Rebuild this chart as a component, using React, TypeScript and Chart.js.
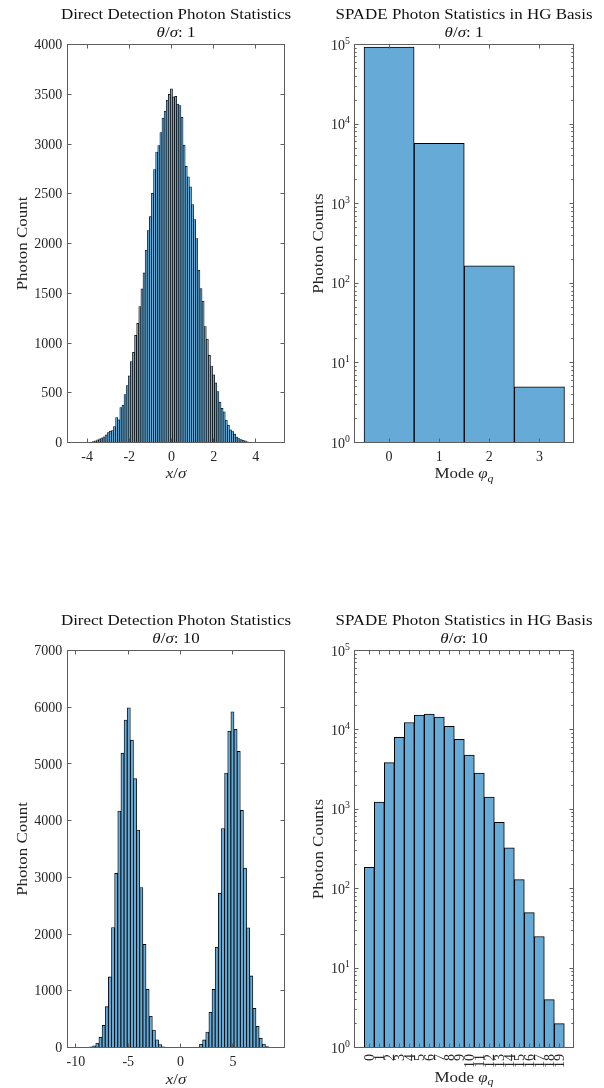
import React, { useEffect, useRef } from 'react';
import { Chart, registerables } from 'chart.js';

Chart.register(...registerables);

// ---------------- DATA ----------------
// Direct detection, theta/sigma = 1 (bin centres, bin width 0.1)
const ddCenters1 = [
  -3.7, -3.6, -3.5, -3.4, -3.3, -3.2, -3.1, -3.0, -2.9, -2.8, -2.7, -2.6, -2.5, -2.4, -2.3, -2.2, -2.1, -2.0, -1.9,
  -1.8, -1.7, -1.6, -1.5, -1.4, -1.3, -1.2, -1.1, -1.0, -0.9, -0.8, -0.7, -0.6, -0.5, -0.4, -0.3, -0.2, -0.1,
  0.0, 0.1, 0.2, 0.3, 0.4, 0.5, 0.6, 0.7, 0.8, 0.9, 1.0, 1.1, 1.2, 1.3, 1.4, 1.5, 1.6, 1.7, 1.8, 1.9, 2.0, 2.1,
  2.2, 2.3, 2.4, 2.5, 2.6, 2.7, 2.8, 2.9, 3.0, 3.1, 3.2, 3.3, 3.4, 3.5, 3.6,
];
const ddCounts1 = [
  10, 17, 27, 37, 47, 57, 77, 100, 114, 120, 160, 251, 227, 351, 375, 482, 572, 669, 813,
  906, 1077, 1197, 1365, 1545, 1706, 1933, 2130, 2271, 2505, 2742, 2920, 2983, 3114, 3261, 3330, 3440, 3500,
  3555, 3475, 3478, 3400, 3385, 3268, 2990, 2776, 2669, 2569, 2391, 2241, 2050, 1732, 1548, 1421, 1164, 1040, 876, 769, 679, 599,
  512, 405, 344, 308, 224, 174, 127, 110, 84, 54, 40, 30, 23, 17, 7,
];

// Direct detection, theta/sigma = 10 (bin centres, bin width 0.3)
const ddCenters10 = [
  -8.55, -8.25, -7.95, -7.65, -7.35, -7.05, -6.75, -6.45, -6.15, -5.85, -5.55, -5.25, -4.95, -4.65, -4.35,
  -4.05, -3.75, -3.45, -3.15, -2.85, -2.55, -2.25, -1.95, -1.65, -1.35,
  1.65, 1.95, 2.25, 2.55, 2.85, 3.15, 3.45, 3.75, 4.05, 4.35, 4.65, 4.95, 5.25, 5.55, 5.85, 6.15, 6.45,
  6.75, 7.05, 7.35, 7.65, 7.95, 8.25,
];
const ddCounts10 = [
  10, 30, 78, 182, 390, 720, 1245, 2115, 3070, 4170, 5190, 5775, 5990, 5420, 4740,
  3835, 2820, 1817, 1027, 550, 307, 135, 52, 12, 3,
  6, 58, 134, 274, 622, 1025, 1768, 2722, 3860, 4840, 5575, 5920, 5610, 5220, 4180, 3162, 2110,
  1263, 690, 375, 165, 60, 18,
];

// SPADE, theta/sigma = 1
const modes1 = [0, 1, 2, 3];
const spadeCounts1 = [93000, 5730, 166, 5];

// SPADE, theta/sigma = 10
const modes10 = [0, 1, 2, 3, 4, 5, 6, 7, 8, 9, 10, 11, 12, 13, 14, 15, 16, 17, 18, 19];
const spadeCounts10 = [186, 1236, 3863, 8040, 12400, 15380, 15850, 14520, 11070, 7590, 4830, 2865, 1429, 686, 326, 130, 50, 25, 4, 2];

// Ticks
const ddTicks1X = [-4, -2, 0, 2, 4];
const ddTicks1Y = [0, 500, 1000, 1500, 2000, 2500, 3000, 3500, 4000];
const ddTicks10X = [-10, -5, 0, 5];
const ddTicks10Y = [0, 1000, 2000, 3000, 4000, 5000, 6000, 7000];
const spadeTicks1X = [0, 1, 2, 3];
const spadeTicks10X = [0, 1, 2, 3, 4, 5, 6, 7, 8, 9, 10, 11, 12, 13, 14, 15, 16, 17, 18, 19];
const logTicksY = [1, 10, 100, 1000, 10000, 100000];
const logMinorMult = [2, 3, 4, 5, 6, 7, 8, 9];

const ddTitle = 'Direct Detection Photon Statistics';
const spadeTitle = 'SPADE Photon Statistics in HG Basis';

// ---------------- STYLE ----------------
const FONT = "'Liberation Serif', 'Times New Roman', serif";
const TXT = '#262626';
const AXIS = '#5e5e5e';
const BAR_FILL = '#66aad7';
const BAR_EDGE = '#000000';
const SX = 1.13;

type Seg = { t: string; it?: boolean; sub?: boolean; sup?: boolean };

function segFont(s: Seg, size: number) {
  const sz = s.sub || s.sup ? size * 0.7 : size;
  return `${s.it ? 'italic ' : ''}${sz}px ${FONT}`;
}

function drawRich(
  ctx: CanvasRenderingContext2D,
  segs: Seg[],
  x: number,
  y: number,
  size: number,
  align: 'left' | 'center' | 'right',
  color: string,
  sx = 1,
  rotate = 0,
) {
  ctx.save();
  ctx.translate(x, y);
  if (rotate) ctx.rotate(rotate);
  ctx.scale(sx, 1);
  let total = 0;
  const widths = segs.map((s) => {
    ctx.font = segFont(s, size);
    const w = ctx.measureText(s.t).width;
    total += w;
    return w;
  });
  let cx = align === 'center' ? -total / 2 : align === 'right' ? -total : 0;
  ctx.fillStyle = color;
  ctx.textAlign = 'left';
  ctx.textBaseline = 'alphabetic';
  segs.forEach((s, i) => {
    ctx.font = segFont(s, size);
    const dy = s.sub ? size * 0.22 : s.sup ? -size * 0.42 : 0;
    ctx.fillText(s.t, cx, dy);
    cx += widths[i];
  });
  ctx.restore();
}

type Panel = {
  ox: number;
  oy: number;
  xs: number[];
  ys: number[];
  log: boolean;
  xMin: number;
  xMax: number;
  yMin: number;
  yMax: number;
  xTicks: number[];
  yTicks: number[];
  title: string;
  theta: string;
  xLabel: Seg[];
  yLabel: string;
  padTop: number;
  padRight: number;
  yW: number;
  xH: number;
  xLabelDy: number;
  yLabelDx: number;
  yTickGap: number;
  rotatedX: boolean;
  borderWidth: number;
};

const xOverSigma: Seg[] = [{ t: 'x', it: true }, { t: '/' }, { t: 'σ', it: true }];
const modeLabel: Seg[] = [{ t: 'Mode ' }, { t: 'φ', it: true }, { t: 'q', it: true, sub: true }];

const panels: Panel[] = [
  {
    ox: 0, oy: 0, xs: ddCenters1, ys: ddCounts1, log: false,
    xMin: -4.93, xMax: 5.36, yMin: 0, yMax: 4000, xTicks: ddTicks1X, yTicks: ddTicks1Y,
    title: ddTitle, theta: '1', xLabel: xOverSigma, yLabel: 'Photon Count',
    padTop: 44.5, padRight: 17.5, yW: 67.5, xH: 101.5, xLabelDy: 35.5, yLabelDx: 40.8, yTickGap: 5.2,
    rotatedX: false, borderWidth: 0.72,
  },
  {
    ox: 302, oy: 0, xs: modes1, ys: spadeCounts1, log: true,
    xMin: -0.69, xMax: 3.68, yMin: 1, yMax: 100000, xTicks: spadeTicks1X, yTicks: logTicksY,
    title: spadeTitle, theta: '1', xLabel: modeLabel, yLabel: 'Photon Counts',
    padTop: 44.5, padRight: 30.5, yW: 52.5, xH: 101.5, xLabelDy: 35.8, yLabelDx: 31.2, yTickGap: 4.5,
    rotatedX: false, borderWidth: 1,
  },
  {
    ox: 0, oy: 544, xs: ddCenters10, ys: ddCounts10, log: false,
    xMin: -10.8, xMax: 9.92, yMin: 0, yMax: 7000, xTicks: ddTicks10X, yTicks: ddTicks10Y,
    title: ddTitle, theta: '10', xLabel: xOverSigma, yLabel: 'Photon Count',
    padTop: 106.5, padRight: 17.5, yW: 67.5, xH: 40.5, xLabelDy: 36.5, yLabelDx: 40.8, yTickGap: 5.2,
    rotatedX: false, borderWidth: 0.85,
  },
  {
    ox: 302, oy: 544, xs: modes10, ys: spadeCounts10, log: true,
    xMin: -1.48, xMax: 20.42, yMin: 1, yMax: 100000, xTicks: spadeTicks10X, yTicks: logTicksY,
    title: spadeTitle, theta: '10', xLabel: modeLabel, yLabel: 'Photon Counts',
    padTop: 106.5, padRight: 30.5, yW: 52.5, xH: 40.5, xLabelDy: 34, yLabelDx: 31.2, yTickGap: 4.5,
    rotatedX: true, borderWidth: 1,
  },
];

function decorPlugin(p: Panel) {
  return {
    id: 'matlabDecor',
    afterDraw(chart: any) {
      const ctx: CanvasRenderingContext2D = chart.ctx;
      const { left, right, top, bottom } = chart.chartArea;
      const xs = chart.scales.x;
      const ys = chart.scales.y;
      const snap = (v: number) => Math.round(v - 0.5) + 0.5;
      const TLEN = 4;
      const MLEN = 2.2;
      ctx.save();
      // box
      ctx.strokeStyle = AXIS;
      ctx.lineWidth = 1;
      ctx.strokeRect(left, top, right - left, bottom - top);
      // ticks
      ctx.beginPath();
      xs.ticks.forEach((t: any) => {
        const px = snap(xs.getPixelForValue(t.value));
        ctx.moveTo(px, bottom);
        ctx.lineTo(px, bottom - TLEN);
        ctx.moveTo(px, top);
        ctx.lineTo(px, top + TLEN);
      });
      ys.ticks.forEach((t: any) => {
        const py = snap(ys.getPixelForValue(t.value));
        ctx.moveTo(left, py);
        ctx.lineTo(left + TLEN, py);
        ctx.moveTo(right, py);
        ctx.lineTo(right - TLEN, py);
      });
      if (p.log) {
        for (let i = 0; i < p.yTicks.length - 1; i++) {
          logMinorMult.forEach((m) => {
            const py = snap(ys.getPixelForValue(p.yTicks[i] * m));
            ctx.moveTo(left, py);
            ctx.lineTo(left + MLEN, py);
            ctx.moveTo(right, py);
            ctx.lineTo(right - MLEN, py);
          });
        }
      }
      ctx.stroke();

      // y tick labels
      ys.ticks.forEach((t: any) => {
        const py = ys.getPixelForValue(t.value);
        if (p.log) {
          const exp = Math.round(Math.log10(t.value));
          drawRich(ctx, [{ t: '10' }, { t: String(exp), sup: true }], left - p.yTickGap, py + 5, 14, 'right', TXT);
        } else {
          drawRich(ctx, [{ t: String(t.value) }], left - p.yTickGap, py + 4.6, 14, 'right', TXT);
        }
      });
      // x tick labels
      xs.ticks.forEach((t: any) => {
        const px = xs.getPixelForValue(t.value);
        if (p.rotatedX) {
          drawRich(ctx, [{ t: String(t.value) }], px + 4.6, bottom + 6.5, 14, 'right', TXT, 1, -Math.PI / 2);
        } else {
          drawRich(ctx, [{ t: String(t.value) }], px, bottom + 18.8, 14, 'center', TXT);
        }
      });
      const cx = (left + right) / 2;
      const cy = (top + bottom) / 2;
      // titles
      drawRich(ctx, [{ t: p.title }], cx, top - 25.5, 15, 'center', '#111111', SX);
      drawRich(
        ctx,
        [{ t: 'θ', it: true }, { t: '/' }, { t: 'σ', it: true }, { t: ': ' + p.theta }],
        cx,
        top - 7.8,
        15,
        'center',
        '#111111',
        SX,
      );
      // axis labels
      drawRich(ctx, p.xLabel, cx, bottom + p.xLabelDy, 15, 'center', TXT, SX);
      drawRich(ctx, [{ t: p.yLabel }], left - p.yLabelDx, cy, 15, 'center', TXT, SX, -Math.PI / 2);
      ctx.restore();
    },
  };
}

function buildChart(canvas: HTMLCanvasElement, p: Panel) {
  const data = p.xs.map((x, i) => ({ x, y: p.ys[i] }));
  return new Chart(canvas, {
    type: 'bar',
    data: {
      datasets: [
        {
          data: data as any,
          backgroundColor: BAR_FILL,
          borderColor: BAR_EDGE,
          borderWidth: p.borderWidth,
          borderSkipped: 'start',
          barPercentage: 1,
          categoryPercentage: 1,
        },
      ],
    },
    options: {
      responsive: false,
      animation: false,
      events: [],
      layout: { padding: { top: p.padTop, right: p.padRight, left: 0, bottom: 0 } },
      plugins: { legend: { display: false }, tooltip: { enabled: false }, title: { display: false } },
      scales: {
        x: {
          type: 'linear',
          min: p.xMin,
          max: p.xMax,
          offset: false,
          grid: { display: false, drawTicks: false },
          border: { display: false },
          ticks: { display: false },
          afterBuildTicks: (s: any) => {
            s.ticks = p.xTicks.map((v) => ({ value: v }));
          },
          afterFit: (s: any) => {
            s.height = p.xH;
          },
        },
        y: {
          type: p.log ? 'logarithmic' : 'linear',
          min: p.yMin,
          max: p.yMax,
          grid: { display: false, drawTicks: false },
          border: { display: false },
          ticks: { display: false },
          afterBuildTicks: (s: any) => {
            s.ticks = p.yTicks.map((v) => ({ value: v }));
          },
          afterFit: (s: any) => {
            s.width = p.yW;
          },
        },
      } as any,
    },
    plugins: [decorPlugin(p)],
  });
}

export default function App() {
  const r0 = useRef<HTMLCanvasElement>(null);
  const r1 = useRef<HTMLCanvasElement>(null);
  const r2 = useRef<HTMLCanvasElement>(null);
  const r3 = useRef<HTMLCanvasElement>(null);
  const refs = [r0, r1, r2, r3];
  useEffect(() => {
    const charts = panels.map((p, i) => buildChart(refs[i].current as HTMLCanvasElement, p));
    return () => charts.forEach((c) => c.destroy());
  }, []);
  return (
    <div style={{ position: 'absolute', left: 0, top: 0, width: 604, height: 1088, background: '#ffffff', overflow: 'hidden' }}>
      {panels.map((p, i) => (
        <canvas
          key={i}
          ref={refs[i]}
          width={302}
          height={544}
          style={{ position: 'absolute', left: p.ox, top: p.oy, width: 302, height: 544 }}
        />
      ))}
    </div>
  );
}
